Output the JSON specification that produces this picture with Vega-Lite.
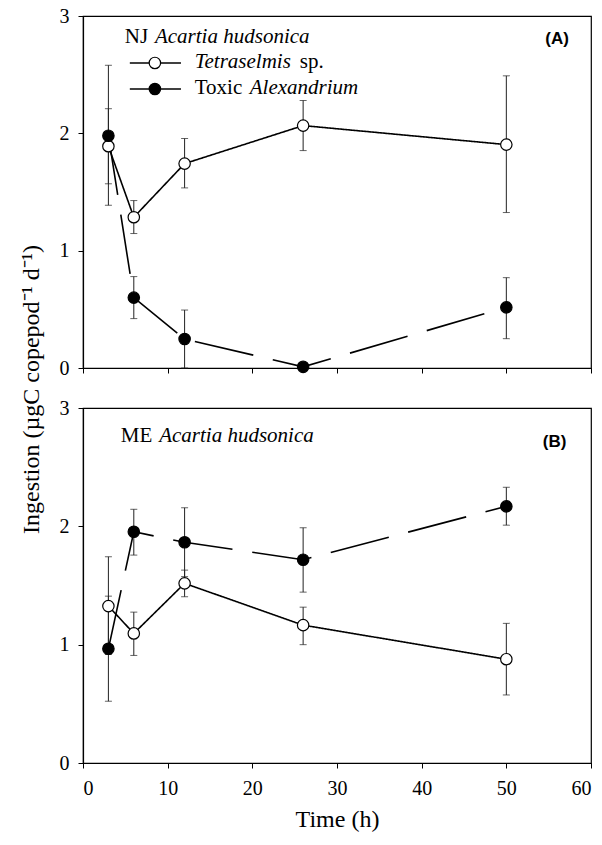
{
  "$schema": "https://vega.github.io/schema/vega-lite/v6.json",
  "padding": {"left": 18, "top": 5, "right": 5, "bottom": 5},
  "spacing": 40,
  "bounds": "flush",
  "background": "white",
  "config": {
    "font": "Liberation Serif",
    "view": {"stroke": "black", "strokeWidth": 1.2},
    "axis": {"grid": false, "domainColor": "black", "tickColor": "black", "labelColor": "black", "titleColor": "black", "labelFontSize": 20, "titleFontSize": 21, "titleFontWeight": "normal", "tickSize": 5, "domainWidth": 1.2, "tickWidth": 1, "labelFont": "Liberation Serif", "titleFont": "Liberation Serif"}
  },
  "datasets": {
    "obs": [
      {"panel": "A", "series": "Tetraselmis", "time": 3, "value": 1.89, "lo": 1.57, "hi": 2.21},
      {"panel": "A", "series": "Tetraselmis", "time": 6, "value": 1.285, "lo": 1.146, "hi": 1.427},
      {"panel": "A", "series": "Tetraselmis", "time": 12, "value": 1.742, "lo": 1.535, "hi": 1.956},
      {"panel": "A", "series": "Tetraselmis", "time": 26, "value": 2.066, "lo": 1.853, "hi": 2.28},
      {"panel": "A", "series": "Tetraselmis", "time": 50, "value": 1.904, "lo": 1.325, "hi": 2.49},
      {"panel": "A", "series": "Toxic", "time": 3, "value": 1.98, "lo": 1.387, "hi": 2.58},
      {"panel": "A", "series": "Toxic", "time": 6, "value": 0.6, "lo": 0.421, "hi": 0.779},
      {"panel": "A", "series": "Toxic", "time": 12, "value": 0.247, "lo": 0.0, "hi": 0.494},
      {"panel": "A", "series": "Toxic", "time": 26, "value": 0.01, "lo": 0.01, "hi": 0.01},
      {"panel": "A", "series": "Toxic", "time": 50, "value": 0.517, "lo": 0.25, "hi": 0.77},
      {"panel": "B", "series": "Tetraselmis", "time": 3, "value": 1.326, "lo": 0.917, "hi": 1.743},
      {"panel": "B", "series": "Tetraselmis", "time": 6, "value": 1.095, "lo": 0.909, "hi": 1.275},
      {"panel": "B", "series": "Tetraselmis", "time": 12, "value": 1.518, "lo": 1.405, "hi": 1.63},
      {"panel": "B", "series": "Tetraselmis", "time": 26, "value": 1.165, "lo": 1.0, "hi": 1.317},
      {"panel": "B", "series": "Tetraselmis", "time": 50, "value": 0.877, "lo": 0.575, "hi": 1.18},
      {"panel": "B", "series": "Toxic", "time": 3, "value": 0.965, "lo": 0.522, "hi": 1.41},
      {"panel": "B", "series": "Toxic", "time": 6, "value": 1.954, "lo": 1.757, "hi": 2.144},
      {"panel": "B", "series": "Toxic", "time": 12, "value": 1.865, "lo": 1.575, "hi": 2.157},
      {"panel": "B", "series": "Toxic", "time": 26, "value": 1.718, "lo": 1.444, "hi": 1.988},
      {"panel": "B", "series": "Toxic", "time": 50, "value": 2.169, "lo": 2.01, "hi": 2.33}
    ]
  },
  "vconcat": [
    {
      "width": 508,
      "height": 352,
      "layer": [
        {
          "data": {"name": "obs"},
          "transform": [{"filter": "datum.panel === 'A'"}],
          "mark": {"type": "line", "strokeWidth": 1.6, "color": "black"},
          "encoding": {
            "x": {"field": "time", "type": "quantitative", "scale": {"domain": [0, 60], "nice": false}, "axis": {"values": [0, 10, 20, 30, 40, 50, 60], "labels": false, "title": null}},
            "y": {"field": "value", "type": "quantitative", "scale": {"domain": [0, 3], "nice": false}, "axis": {"values": [0, 1, 2, 3], "format": "d", "title": null, "labelPadding": 9}},
            "strokeDash": {"field": "series", "type": "nominal", "scale": {"domain": ["Tetraselmis", "Toxic"], "range": [[1, 0], [60, 20]]}, "legend": null}
          }
        },
        {
          "data": {"name": "obs"},
          "transform": [{"filter": "datum.panel === 'A'"}],
          "mark": {"type": "rule", "strokeWidth": 1, "color": "#222"},
          "encoding": {"x": {"field": "time", "type": "quantitative"}, "y": {"field": "lo", "type": "quantitative"}, "y2": {"field": "hi"}}
        },
        {
          "data": {"name": "obs"},
          "transform": [{"filter": "datum.panel === 'A'"}],
          "mark": {"type": "tick", "orient": "horizontal", "size": 7, "thickness": 1, "color": "#222"},
          "encoding": {"x": {"field": "time", "type": "quantitative"}, "y": {"field": "lo", "type": "quantitative"}}
        },
        {
          "data": {"name": "obs"},
          "transform": [{"filter": "datum.panel === 'A'"}],
          "mark": {"type": "tick", "orient": "horizontal", "size": 7, "thickness": 1, "color": "#222"},
          "encoding": {"x": {"field": "time", "type": "quantitative"}, "y": {"field": "hi", "type": "quantitative"}}
        },
        {
          "data": {"name": "obs"},
          "transform": [{"filter": "datum.panel === 'A'"}],
          "mark": {"type": "point", "shape": "circle", "size": 130, "stroke": "black", "strokeWidth": 1.2, "opacity": 1, "filled": true},
          "encoding": {
            "x": {"field": "time", "type": "quantitative"},
            "y": {"field": "value", "type": "quantitative"},
            "fill": {"field": "series", "type": "nominal", "scale": {"domain": ["Tetraselmis", "Toxic"], "range": ["white", "black"]}, "legend": null}
          }
        },
        {
          "data": {"values": [{}]},
          "mark": {"type": "text", "align": "left", "baseline": "alphabetic", "fontSize": 21, "font": "Liberation Serif", "color": "black"},
          "encoding": {"x": {"datum": 4.94}, "y": {"datum": 2.771}, "text": {"value": "NJ"}}
        },
        {
          "data": {"values": [{}]},
          "mark": {"type": "text", "align": "left", "baseline": "alphabetic", "fontSize": 21, "font": "Liberation Serif", "fontStyle": "italic", "color": "black"},
          "encoding": {"x": {"datum": 8.5}, "y": {"datum": 2.771}, "text": {"value": "Acartia hudsonica"}}
        },
        {
          "data": {"values": [{}]},
          "mark": {"type": "rule", "strokeWidth": 1.6, "color": "black"},
          "encoding": {"x": {"datum": 5.53}, "x2": {"datum": 11.57}, "y": {"datum": 2.6}}
        },
        {
          "data": {"values": [{}]},
          "mark": {"type": "rule", "strokeWidth": 1.6, "color": "black"},
          "encoding": {"x": {"datum": 5.53}, "x2": {"datum": 11.57}, "y": {"datum": 2.378}}
        },
        {
          "data": {"values": [{}]},
          "mark": {"type": "point", "shape": "circle", "size": 130, "stroke": "black", "strokeWidth": 1.2, "fill": "white", "opacity": 1, "filled": true},
          "encoding": {"x": {"datum": 8.49}, "y": {"datum": 2.6}}
        },
        {
          "data": {"values": [{}]},
          "mark": {"type": "point", "shape": "circle", "size": 130, "stroke": "black", "strokeWidth": 1.2, "fill": "black", "opacity": 1, "filled": true},
          "encoding": {"x": {"datum": 8.49}, "y": {"datum": 2.378}}
        },
        {
          "data": {"values": [{}]},
          "mark": {"type": "text", "align": "left", "baseline": "alphabetic", "fontSize": 21, "font": "Liberation Serif", "fontStyle": "italic", "color": "black"},
          "encoding": {"x": {"datum": 13.2}, "y": {"datum": 2.557}, "text": {"value": "Tetraselmis"}}
        },
        {
          "data": {"values": [{}]},
          "mark": {"type": "text", "align": "left", "baseline": "alphabetic", "fontSize": 21, "font": "Liberation Serif", "color": "black"},
          "encoding": {"x": {"datum": 25.6}, "y": {"datum": 2.557}, "text": {"value": "sp."}}
        },
        {
          "data": {"values": [{}]},
          "mark": {"type": "text", "align": "left", "baseline": "alphabetic", "fontSize": 21, "font": "Liberation Serif", "color": "black"},
          "encoding": {"x": {"datum": 13.2}, "y": {"datum": 2.331}, "text": {"value": "Toxic"}}
        },
        {
          "data": {"values": [{}]},
          "mark": {"type": "text", "align": "left", "baseline": "alphabetic", "fontSize": 21, "font": "Liberation Serif", "fontStyle": "italic", "color": "black"},
          "encoding": {"x": {"datum": 19.7}, "y": {"datum": 2.331}, "text": {"value": "Alexandrium"}}
        },
        {
          "data": {"values": [{}]},
          "mark": {"type": "text", "align": "center", "baseline": "middle", "fontSize": 17, "font": "Liberation Sans", "fontWeight": "bold", "color": "black"},
          "encoding": {"x": {"datum": 56.0}, "y": {"datum": 2.8}, "text": {"value": "(A)"}}
        }
      ]
    },
    {
      "width": 508,
      "height": 355,
      "layer": [
        {
          "data": {"name": "obs"},
          "transform": [{"filter": "datum.panel === 'B'"}],
          "mark": {"type": "line", "strokeWidth": 1.6, "color": "black"},
          "encoding": {
            "x": {"field": "time", "type": "quantitative", "scale": {"domain": [0, 60], "nice": false}, "axis": {"values": [0, 10, 20, 30, 40, 50, 60], "title": "Time (h)", "labelPadding": 10, "titlePadding": 9, "titleFontSize": 24}},
            "y": {"field": "value", "type": "quantitative", "scale": {"domain": [0, 3], "nice": false}, "axis": {"values": [0, 1, 2, 3], "format": "d", "labelPadding": 9, "title": "Ingestion (µgC copepod⁻¹ d⁻¹)", "titleX": -52, "titleY": -19, "titleAngle": -90, "titleAlign": "center", "titleBaseline": "middle", "titleFontSize": 24}},
            "strokeDash": {"field": "series", "type": "nominal", "scale": {"domain": ["Tetraselmis", "Toxic"], "range": [[1, 0], [60, 20]]}, "legend": null}
          }
        },
        {
          "data": {"name": "obs"},
          "transform": [{"filter": "datum.panel === 'B'"}],
          "mark": {"type": "rule", "strokeWidth": 1, "color": "#222"},
          "encoding": {"x": {"field": "time", "type": "quantitative"}, "y": {"field": "lo", "type": "quantitative"}, "y2": {"field": "hi"}}
        },
        {
          "data": {"name": "obs"},
          "transform": [{"filter": "datum.panel === 'B'"}],
          "mark": {"type": "tick", "orient": "horizontal", "size": 7, "thickness": 1, "color": "#222"},
          "encoding": {"x": {"field": "time", "type": "quantitative"}, "y": {"field": "lo", "type": "quantitative"}}
        },
        {
          "data": {"name": "obs"},
          "transform": [{"filter": "datum.panel === 'B'"}],
          "mark": {"type": "tick", "orient": "horizontal", "size": 7, "thickness": 1, "color": "#222"},
          "encoding": {"x": {"field": "time", "type": "quantitative"}, "y": {"field": "hi", "type": "quantitative"}}
        },
        {
          "data": {"name": "obs"},
          "transform": [{"filter": "datum.panel === 'B'"}],
          "mark": {"type": "point", "shape": "circle", "size": 130, "stroke": "black", "strokeWidth": 1.2, "opacity": 1, "filled": true},
          "encoding": {
            "x": {"field": "time", "type": "quantitative"},
            "y": {"field": "value", "type": "quantitative"},
            "fill": {"field": "series", "type": "nominal", "scale": {"domain": ["Tetraselmis", "Toxic"], "range": ["white", "black"]}, "legend": null}
          }
        },
        {
          "data": {"values": [{}]},
          "mark": {"type": "text", "align": "left", "baseline": "alphabetic", "fontSize": 21, "font": "Liberation Serif", "color": "black"},
          "encoding": {"x": {"datum": 4.47}, "y": {"datum": 2.716}, "text": {"value": "ME"}}
        },
        {
          "data": {"values": [{}]},
          "mark": {"type": "text", "align": "left", "baseline": "alphabetic", "fontSize": 21, "font": "Liberation Serif", "fontStyle": "italic", "color": "black"},
          "encoding": {"x": {"datum": 9.0}, "y": {"datum": 2.716}, "text": {"value": "Acartia hudsonica"}}
        },
        {
          "data": {"values": [{}]},
          "mark": {"type": "text", "align": "center", "baseline": "middle", "fontSize": 17, "font": "Liberation Sans", "fontWeight": "bold", "color": "black"},
          "encoding": {"x": {"datum": 55.7}, "y": {"datum": 2.715}, "text": {"value": "(B)"}}
        }
      ]
    }
  ]
}
